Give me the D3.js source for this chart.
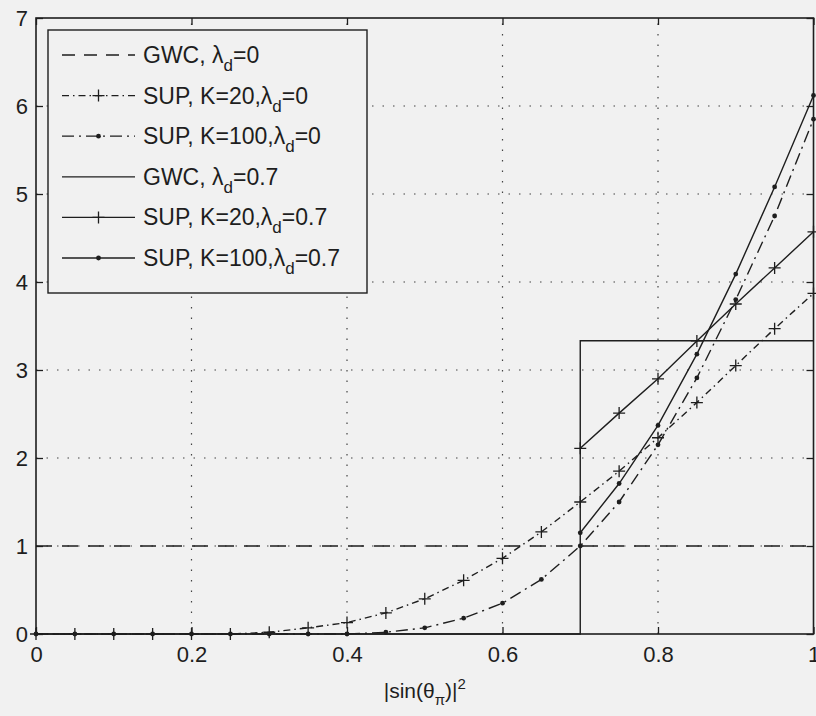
<!DOCTYPE html>
<html>
<head>
<meta charset="utf-8">
<script src="https://cdn.jsdelivr.net/npm/d3@7"></script>
<style>
  body { margin: 0; background: #f1f1f1; }
  svg { display: block; font-family: "Liberation Sans", Arial, sans-serif; }
</style>
</head>
<body>
<div id="chart"></div>
<script>
// x = |sin(theta_pi)|^2
const sinSq = [0, 0.05, 0.1, 0.15, 0.2, 0.25, 0.3, 0.35, 0.4, 0.45, 0.5,
               0.55, 0.6, 0.65, 0.7, 0.75, 0.8, 0.85, 0.9, 0.95, 1];
const supK20L0  = [0, 0, 0, 0, 0, 0, 0.02, 0.07, 0.13, 0.24, 0.4,
                   0.61, 0.86, 1.16, 1.5, 1.85, 2.23, 2.63, 3.05, 3.47, 3.87];
const supK100L0 = [0, 0, 0, 0, 0, 0, 0, 0, 0, 0.02, 0.07,
                   0.18, 0.35, 0.62, 1.0, 1.5, 2.15, 2.91, 3.8, 4.75, 5.85];

const sinSqHigh  = [0.7, 0.75, 0.8, 0.85, 0.9, 0.95, 1];
const supK20L07  = [2.11, 2.51, 2.9, 3.33, 3.75, 4.16, 4.57];
const supK100L07 = [1.15, 1.71, 2.37, 3.18, 4.09, 5.08, 6.12];

const gwcL0X  = [0, 1];
const gwcL0   = [1, 1];
const gwcL07X = [0, 0.7, 0.7, 1];
const gwcL07  = [0, 0, 3.333, 3.333];

const xTicks = [0, 0.2, 0.4, 0.6, 0.8, 1];
const yTicks = [0, 1, 2, 3, 4, 5, 6, 7];

const legendLabels = [
  ["GWC, λ", "d", "=0"],
  ["SUP, K=20,λ", "d", "=0"],
  ["SUP, K=100,λ", "d", "=0"],
  ["GWC, λ", "d", "=0.7"],
  ["SUP, K=20,λ", "d", "=0.7"],
  ["SUP, K=100,λ", "d", "=0.7"]
];

const W = 816, H = 716;
const m = { left: 36, right: 2.5, top: 18, bottom: 82 };

const svg = d3.select("#chart").append("svg")
  .attr("width", W).attr("height", H);

const x = d3.scaleLinear().domain([0, 1]).range([m.left, W - m.right]);
const y = d3.scaleLinear().domain([0, 7]).range([H - m.bottom, m.top]);

const ink = "#1e1e1e";

// grid
const grid = svg.append("g").attr("stroke", "#444").attr("stroke-width", 1.2)
  .attr("stroke-dasharray", "1.5,9");
grid.selectAll(".gx").data(xTicks.slice(1, -1)).join("line")
  .attr("x1", d => x(d)).attr("x2", d => x(d))
  .attr("y1", y(0)).attr("y2", y(7));
grid.selectAll(".gy").data(yTicks.slice(1, -1)).join("line")
  .attr("x1", x(0)).attr("x2", x(1))
  .attr("y1", d => y(d)).attr("y2", d => y(d));

// axes
const axBottom = svg.append("g").attr("transform", `translate(0,${y(0)})`)
  .call(d3.axisBottom(x).tickValues(xTicks).tickSizeInner(-7).tickSizeOuter(0)
    .tickPadding(12).tickFormat(d3.format("")));
const axTop = svg.append("g").attr("transform", `translate(0,${y(7)})`)
  .call(d3.axisTop(x).tickValues(xTicks).tickSizeInner(-7).tickSizeOuter(0).tickFormat(""));
const axLeft = svg.append("g").attr("transform", `translate(${x(0)},0)`)
  .call(d3.axisLeft(y).tickValues(yTicks).tickSizeInner(-7).tickSizeOuter(0)
    .tickPadding(8).tickFormat(d3.format("d")));
const axRight = svg.append("g").attr("transform", `translate(${x(1)},0)`)
  .call(d3.axisRight(y).tickValues(yTicks).tickSizeInner(-7).tickSizeOuter(0).tickFormat(""));

[axBottom, axTop, axLeft, axRight].forEach(g => {
  g.select(".domain").remove();
  g.selectAll("line").attr("stroke", ink).attr("stroke-width", 1.3);
  g.selectAll("text").attr("font-size", 22).attr("fill", ink)
    .attr("font-family", "Liberation Sans, Arial, sans-serif");
});

svg.append("rect")
  .attr("x", x(0)).attr("y", y(7))
  .attr("width", x(1) - x(0)).attr("height", y(0) - y(7))
  .attr("fill", "none").attr("stroke", ink).attr("stroke-width", 1.6);

// series
const series = [
  { xs: gwcL0X, ys: gwcL0, dash: "16,10", marker: null },
  { xs: sinSq, ys: supK20L0, dash: "7,4,1.5,4", marker: "plus" },
  { xs: sinSq, ys: supK100L0, dash: "12,5,2,5", marker: "dot" },
  { xs: gwcL07X, ys: gwcL07, dash: null, marker: null },
  { xs: sinSqHigh, ys: supK20L07, dash: null, marker: "plus" },
  { xs: sinSqHigh, ys: supK100L07, dash: null, marker: "dot" }
];

const line = d3.line().x(d => x(d[0])).y(d => y(d[1]));

function drawMarker(g, type, px, py) {
  if (type === "plus") {
    g.append("path")
      .attr("d", `M${px - 6},${py}H${px + 6}M${px},${py - 6}V${py + 6}`)
      .attr("stroke", ink).attr("stroke-width", 1.3).attr("fill", "none");
  } else if (type === "dot") {
    g.append("circle").attr("cx", px).attr("cy", py).attr("r", 2.4).attr("fill", ink);
  }
}

const plot = svg.append("g");
series.forEach(s => {
  const pts = s.xs.map((v, i) => [v, s.ys[i]]);
  plot.append("path").datum(pts)
    .attr("d", line)
    .attr("fill", "none").attr("stroke", ink).attr("stroke-width", 1.4)
    .attr("stroke-dasharray", s.dash);
  if (s.marker) pts.forEach(p => drawMarker(plot, s.marker, x(p[0]), y(p[1])));
});

// legend
const lg = svg.append("g");
lg.append("rect").attr("x", 48).attr("y", 30).attr("width", 319).attr("height", 263)
  .attr("fill", "#f1f1f1").attr("stroke", ink).attr("stroke-width", 1.4);
legendLabels.forEach((lab, i) => {
  const cy = 55 + i * 40.6;
  const s = series[i];
  lg.append("line").attr("x1", 62).attr("x2", 135).attr("y1", cy).attr("y2", cy)
    .attr("stroke", ink).attr("stroke-width", 1.3)
    .attr("stroke-dasharray", i === 0 ? "13,9" : s.dash);
  if (s.marker) drawMarker(lg, s.marker, 98.5, cy);
  const t = lg.append("text").attr("x", 143).attr("y", cy + 8)
    .attr("font-size", 23).attr("fill", ink);
  t.append("tspan").text(lab[0]);
  t.append("tspan").attr("font-size", 17).attr("dy", 8).text(lab[1]);
  t.append("tspan").attr("dy", -8).text(lab[2]);
});

// x label
const xl = svg.append("text").attr("x", x(0.5)).attr("y", 698)
  .attr("text-anchor", "middle").attr("font-size", 21).attr("fill", ink);
xl.append("tspan").text("|sin(θ");
xl.append("tspan").attr("font-size", 15).attr("dy", 7).text("π");
xl.append("tspan").attr("dy", -7).text(")|");
xl.append("tspan").attr("font-size", 15).attr("dy", -9).text("2");
</script>
</body>
</html>
